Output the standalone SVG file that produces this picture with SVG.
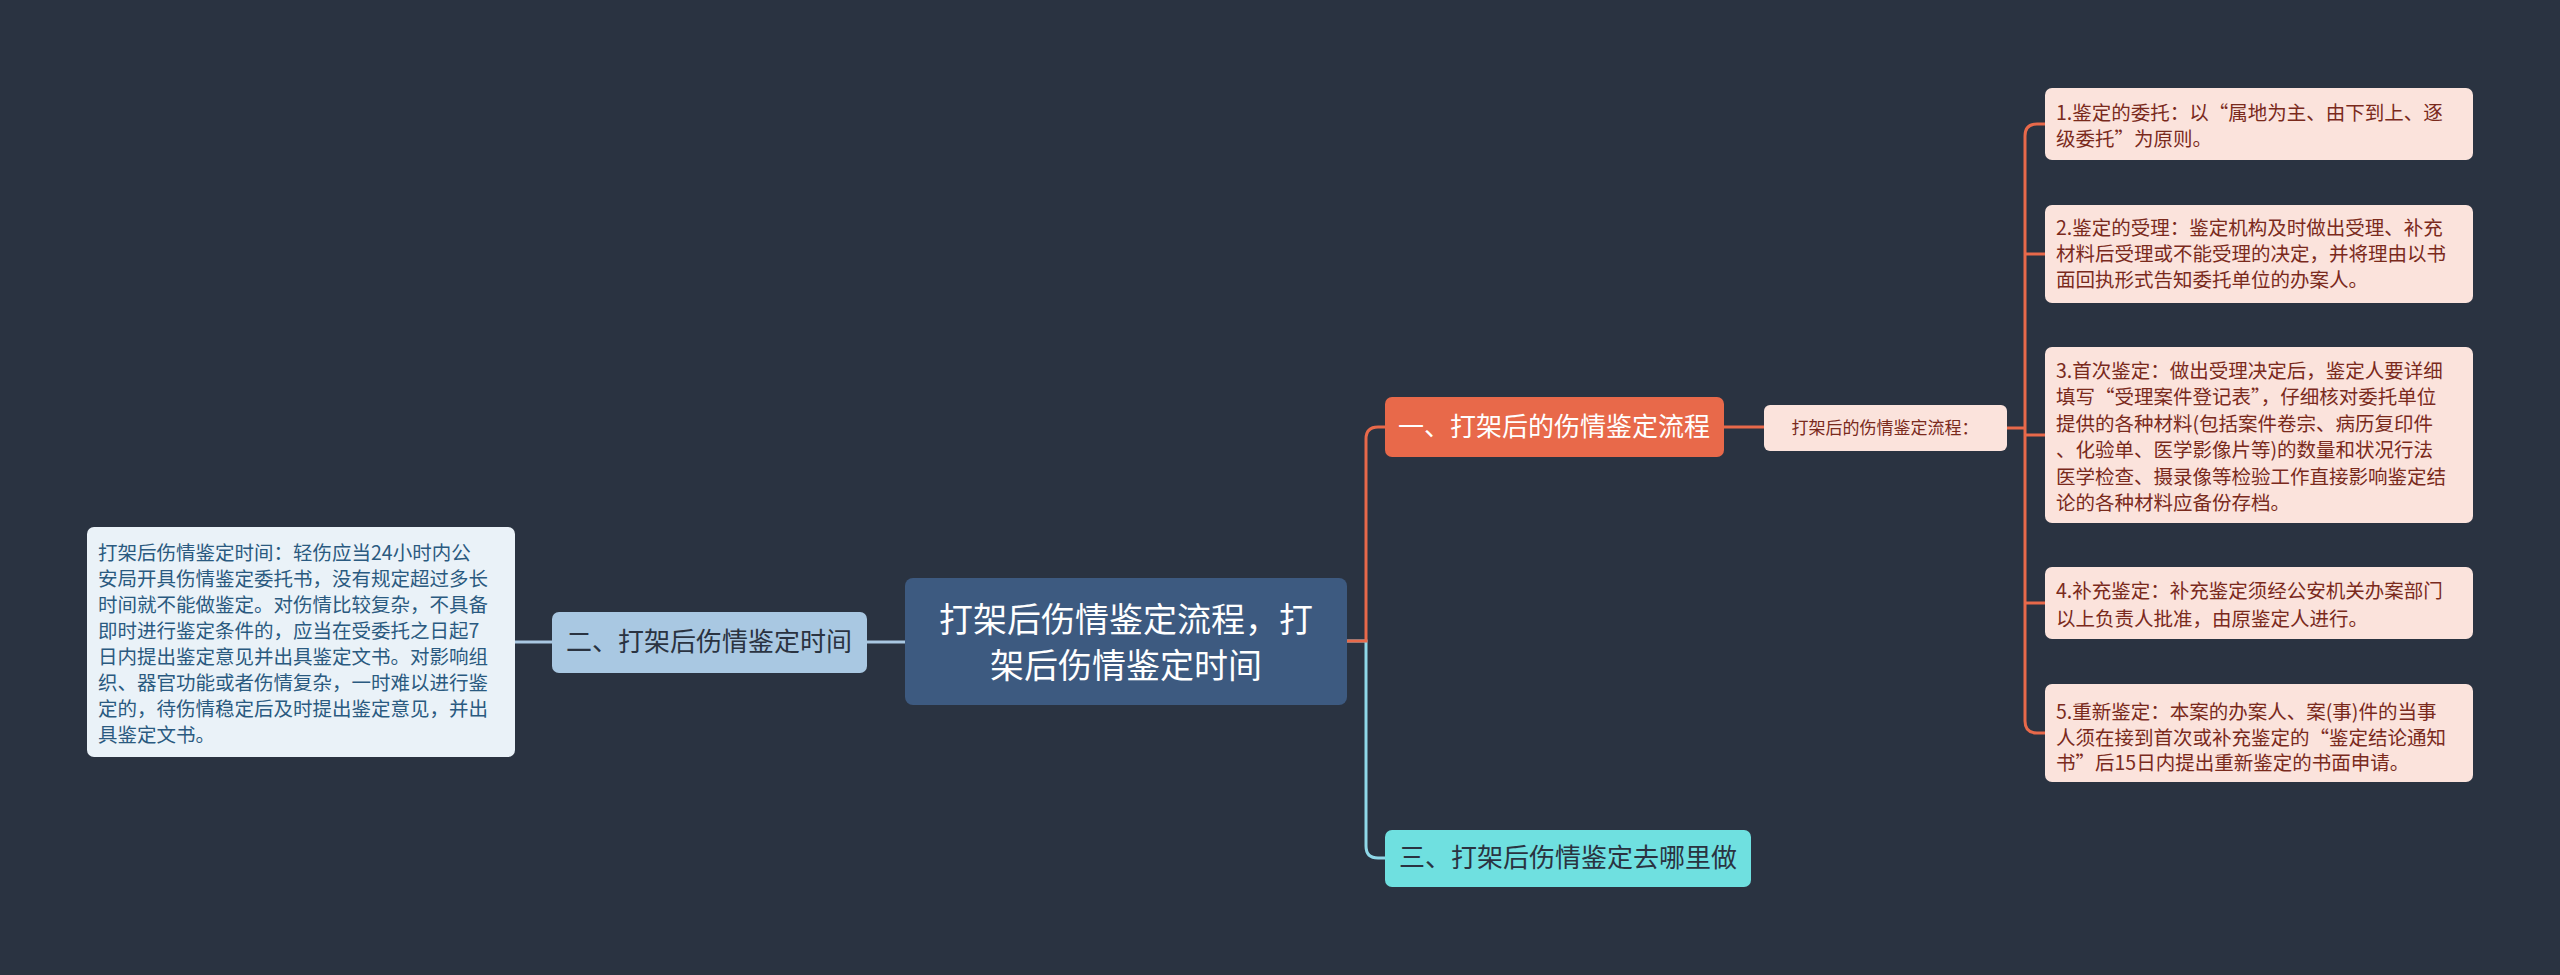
<svg xmlns="http://www.w3.org/2000/svg" width="2560" height="975" viewBox="0 0 2560 975">
<style>
text{font-family:"Noto Sans CJK SC","Liberation Sans",sans-serif}
.leaf{fill:#fbe3dc}
.lt{font-size:19.5px;fill:#7a2a1c}
.c{fill:none;stroke-width:3}
</style>
<rect width="2560" height="975" fill="#2a3341"/>
<g id="connectors">
<path class="c" stroke="#8fd8e8" d="M1347 641 H1366 V846 Q1366 858 1378 858 H1385"/>
<path class="c" stroke="#e8694a" d="M1347 641 H1366 V439 Q1366 427 1378 427 H1385"/>
<path class="c" stroke="#a9c8e2" d="M905 642 H867"/>
<path class="c" stroke="#a9c8e2" d="M552 642 H515"/>
<path class="c" stroke="#e8694a" d="M1724 427 H1764"/>
<path class="c" stroke="#e8694a" d="M2007 428 H2025 M2045 124 H2037 Q2025 124 2025 136 V721 Q2025 733 2037 733 H2045 M2025 254 H2045 M2025 435 H2045 M2025 603 H2045"/>
</g>
<g id="center"><rect x="905" y="578" width="442" height="127" rx="8" fill="#3d5a80"/>
<text x="1126" y="632" font-size="34" fill="#fff" text-anchor="middle">打架后伤情鉴定流程，打</text>
<text x="1126" y="678" font-size="34" fill="#fff" text-anchor="middle">架后伤情鉴定时间</text></g>
<g id="b1"><rect x="1385" y="397" width="339" height="60" rx="7" fill="#e8694a"/>
<text x="1554" y="436" font-size="26" fill="#fff" text-anchor="middle">一、打架后的伤情鉴定流程</text></g>
<g id="b2"><rect x="552" y="612" width="315" height="61" rx="7" fill="#a9c8e2"/>
<text x="709" y="651" font-size="26" fill="#2a3341" text-anchor="middle">二、打架后伤情鉴定时间</text></g>
<g id="b3"><rect x="1385" y="830" width="366" height="57" rx="7" fill="#6fe0e0"/>
<text x="1568" y="867" font-size="26" fill="#2a3341" text-anchor="middle">三、打架后伤情鉴定去哪里做</text></g>
<g id="sub"><rect x="1764" y="405" width="243" height="46" rx="6" class="leaf"/>
<text x="1885" y="434" font-size="17" fill="#7a2a1c" text-anchor="middle">打架后的伤情鉴定流程：</text></g>
<g id="left"><rect x="87" y="527" width="428" height="230" rx="7" fill="#eaf2f8"/>
<text font-size="19.5" fill="#2a5a80"><tspan x="98" y="560">打架后伤情鉴定时间：轻伤应当24小时内公</tspan><tspan x="98" y="586">安局开具伤情鉴定委托书，没有规定超过多长</tspan><tspan x="98" y="612">时间就不能做鉴定。对伤情比较复杂，不具备</tspan><tspan x="98" y="638">即时进行鉴定条件的，应当在受委托之日起7</tspan><tspan x="98" y="664">日内提出鉴定意见并出具鉴定文书。对影响组</tspan><tspan x="98" y="690">织、器官功能或者伤情复杂，一时难以进行鉴</tspan><tspan x="98" y="716">定的，待伤情稳定后及时提出鉴定意见，并出</tspan><tspan x="98" y="742">具鉴定文书。</tspan></text></g>
<g id="r1"><rect x="2045" y="88" width="428" height="72" rx="7" class="leaf"/>
<text class="lt"><tspan x="2056" y="120">1.鉴定的委托：以“属地为主、由下到上、逐</tspan><tspan x="2056" y="146">级委托”为原则。</tspan></text></g>
<g id="r2"><rect x="2045" y="205" width="428" height="98" rx="7" class="leaf"/>
<text class="lt"><tspan x="2056" y="235">2.鉴定的受理：鉴定机构及时做出受理、补充</tspan><tspan x="2056" y="261">材料后受理或不能受理的决定，并将理由以书</tspan><tspan x="2056" y="287">面回执形式告知委托单位的办案人。</tspan></text></g>
<g id="r3"><rect x="2045" y="347" width="428" height="176" rx="7" class="leaf"/>
<text class="lt"><tspan x="2056" y="378">3.首次鉴定：做出受理决定后，鉴定人要详细</tspan><tspan x="2056" y="404">填写“受理案件登记表”，仔细核对委托单位</tspan><tspan x="2056" y="431">提供的各种材料(包括案件卷宗、病历复印件</tspan><tspan x="2056" y="457">、化验单、医学影像片等)的数量和状况行法</tspan><tspan x="2056" y="484">医学检查、摄录像等检验工作直接影响鉴定结</tspan><tspan x="2056" y="510">论的各种材料应备份存档。</tspan></text></g>
<g id="r4"><rect x="2045" y="567" width="428" height="72" rx="7" class="leaf"/>
<text class="lt"><tspan x="2056" y="598">4.补充鉴定：补充鉴定须经公安机关办案部门</tspan><tspan x="2056" y="626">以上负责人批准，由原鉴定人进行。</tspan></text></g>
<g id="r5"><rect x="2045" y="684" width="428" height="98" rx="7" class="leaf"/>
<text class="lt"><tspan x="2056" y="719">5.重新鉴定：本案的办案人、案(事)件的当事</tspan><tspan x="2056" y="745">人须在接到首次或补充鉴定的“鉴定结论通知</tspan><tspan x="2056" y="770">书”后15日内提出重新鉴定的书面申请。</tspan></text></g>
</svg>
